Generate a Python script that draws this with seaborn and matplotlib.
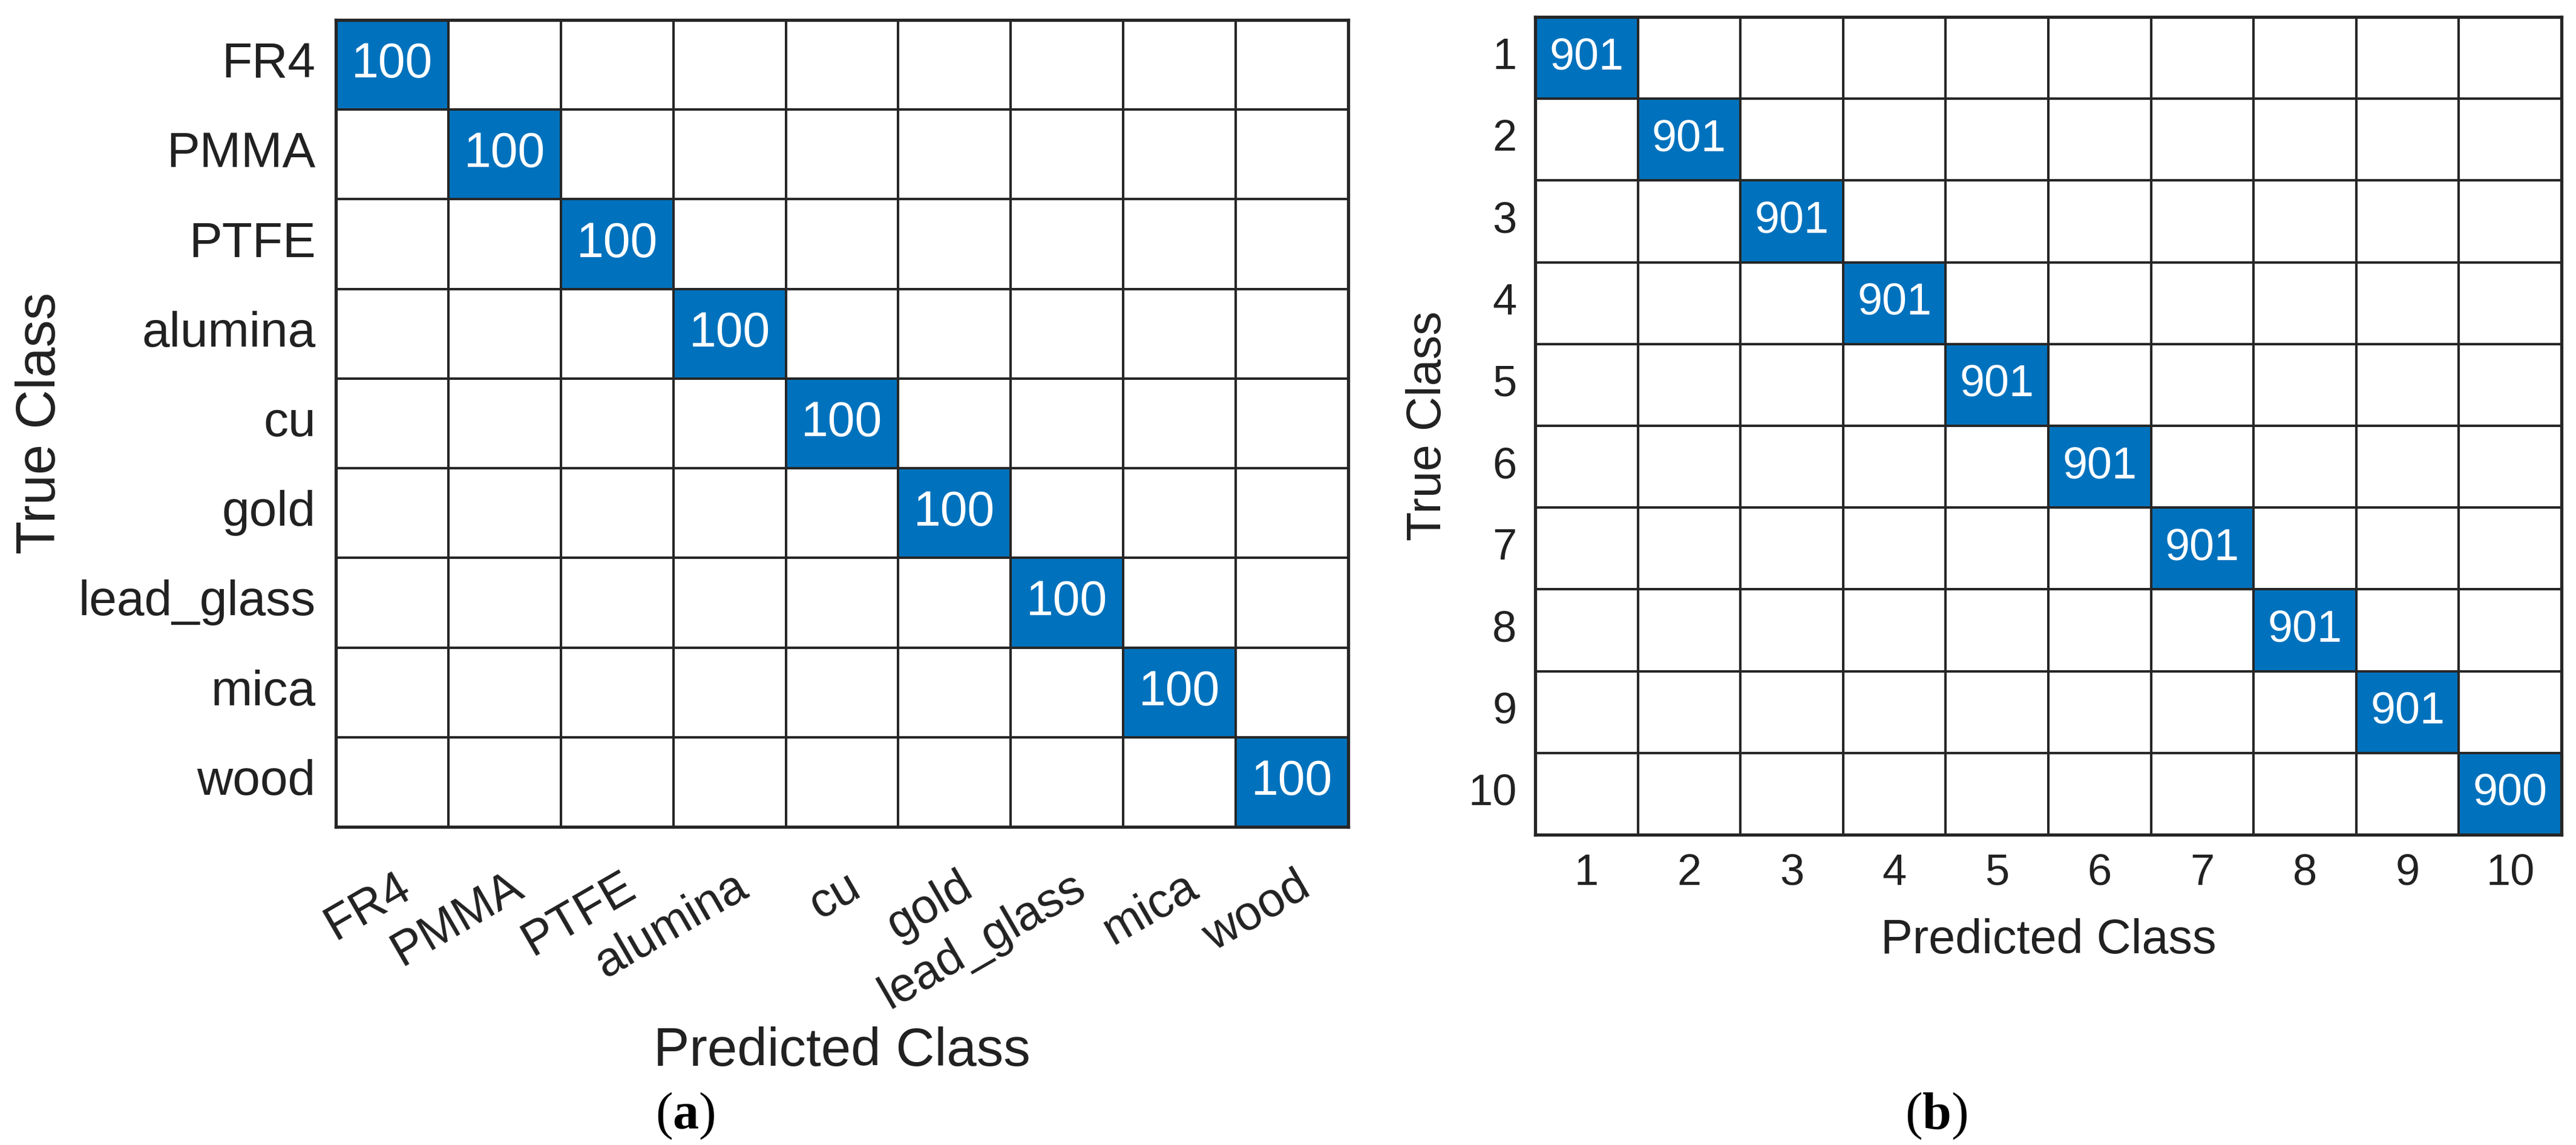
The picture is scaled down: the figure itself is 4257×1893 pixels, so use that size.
import numpy as np
import pandas as pd
import matplotlib
matplotlib.use("Agg")
import matplotlib.pyplot as plt
from matplotlib.colors import ListedColormap
from matplotlib.transforms import ScaledTranslation
import seaborn as sns

# ---- data ----
classes_a = ["FR4", "PMMA", "PTFE", "alumina", "cu", "gold", "lead_glass", "mica", "wood"]
diag_a = [100, 100, 100, 100, 100, 100, 100, 100, 100]
classes_b = ["1", "2", "3", "4", "5", "6", "7", "8", "9", "10"]
diag_b = [901, 901, 901, 901, 901, 901, 901, 901, 901, 900]

cm_a = pd.DataFrame(np.diag(diag_a), index=classes_a, columns=classes_a)
cm_b = pd.DataFrame(np.diag(diag_b), index=classes_b, columns=classes_b)

sns.set_theme(style="white")
plt.rcParams['font.family'] = ['Liberation Sans', 'DejaVu Sans']
plt.rcParams['mathtext.fontset'] = 'custom'
plt.rcParams['mathtext.rm'] = 'Liberation Serif'
plt.rcParams['mathtext.bf'] = 'Liberation Serif:bold'

BLUE = "#0072BD"
LINE = "#262626"
TXT = "#212121"
cmap = ListedColormap(["white", BLUE])

W, H, DPI = 4257, 1893, 100
fig = plt.figure(figsize=(W / DPI, H / DPI), dpi=DPI)

def px_axes(x0, y0, x1, y1):
    return fig.add_axes([x0 / W, 1 - y1 / H, (x1 - x0) / W, (y1 - y0) / H])

ax_a = px_axes(555, 33, 2228, 1367)
ax_b = px_axes(2537, 28, 4233, 1380)

def draw(ax, cm, fs_cell, fs_tick, tickpad):
    annot = cm.map(lambda v: f"{v:d}" if v > 0 else "")
    sns.heatmap((cm > 0).astype(float), ax=ax, cmap=cmap, vmin=0, vmax=1,
                cbar=False, annot=annot, fmt="", linewidths=2.6, linecolor=LINE,
                annot_kws={"color": "white", "fontsize": fs_cell},
                square=False)
    for s in ax.spines.values():
        s.set_visible(True)
        s.set_color(LINE)
        s.set_linewidth(3.8)
    ax.tick_params(axis="both", length=0, pad=tickpad, labelsize=fs_tick,
                   labelcolor=TXT)
    ax.set_yticklabels(cm.index, rotation=0)

draw(ax_a, cm_a, 58, 59, 24)
draw(ax_b, cm_b, 53, 52, 22)

# x tick labels of (a): rotated
ax_a.set_xticklabels(classes_a, rotation=30, ha="right", va="top",
                     rotation_mode="anchor", fontsize=57)
ax_a.tick_params(axis="x", pad=44)
shift = ScaledTranslation(6 / DPI, 0, fig.dpi_scale_trans)
for lab in ax_a.get_xticklabels():
    lab.set_transform(lab.get_transform() + shift)
ax_b.set_xticklabels(classes_b, rotation=0)

# axis labels
ax_a.set_xlabel("Predicted Class", fontsize=64, color=TXT)
ax_a.set_ylabel("True Class", fontsize=65, color=TXT)
ax_b.set_xlabel("Predicted Class", fontsize=57, color=TXT)
ax_b.set_ylabel("True Class", fontsize=57, color=TXT)

ax_a.xaxis.label.set_va("baseline")
ax_a.xaxis.set_label_coords(0.5, (1367 - 1762) / 1334)
ax_a.yaxis.label.set_va("center")
ax_a.yaxis.set_label_coords((67 - 555) / 1673, 0.5)
ax_b.xaxis.label.set_va("baseline")
ax_b.xaxis.set_label_coords(0.5, (1380 - 1576) / 1352)
ax_b.yaxis.label.set_va("center")
ax_b.yaxis.set_label_coords((2360 - 2537) / 1696, 0.5)

# panel captions
fig.text(1132 / W, 1 - 1845 / H, r"$\mathrm{(}\mathbf{a}\mathrm{)}$", fontsize=62,
         ha="center", va="center", color="black")
fig.text(3200 / W, 1 - 1845 / H, r"$\mathrm{(}\mathbf{b}\mathrm{)}$", fontsize=62,
         ha="center", va="center", color="black")

fig.savefig("out.png", dpi=DPI, facecolor="white")
